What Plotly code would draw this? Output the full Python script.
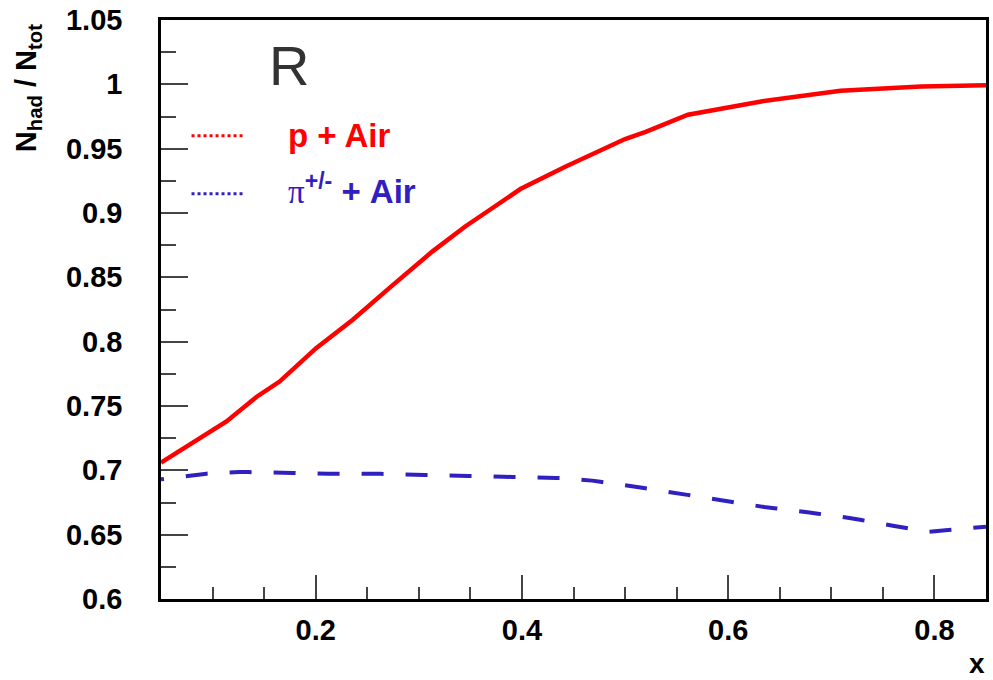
import plotly.graph_objects as go

# ---- data ----
x_p = [0.05, 0.078, 0.1135, 0.1425, 0.165, 0.2004, 0.236, 0.2713, 0.313, 0.345,
       0.3775, 0.3985, 0.442, 0.474, 0.5, 0.52, 0.561, 0.632, 0.709, 0.787, 0.85]
y_p = [0.706, 0.7205, 0.738, 0.757, 0.769, 0.795, 0.817, 0.8416, 0.870, 0.8895,
       0.9077, 0.9186, 0.936, 0.9478, 0.9575, 0.963, 0.9764, 0.9867, 0.995, 0.9984, 0.9992]

x_pi = [0.05, 0.075, 0.094, 0.126, 0.17, 0.212, 0.255, 0.297, 0.339, 0.382, 0.44,
        0.468, 0.51, 0.5515, 0.593, 0.635, 0.677, 0.719, 0.761, 0.7945, 0.85]
y_pi = [0.693, 0.6956, 0.6974, 0.6988, 0.698, 0.6974, 0.6974, 0.6964, 0.6959, 0.695, 0.694,
        0.692, 0.6873, 0.6822, 0.6764, 0.6715, 0.6674, 0.6628, 0.6568, 0.6523, 0.6562]

series_names = ["p + Air", "+ Air"]
x_ticks = [0.2, 0.4, 0.6, 0.8]
x_tick_text = ["0.2", "0.4", "0.6", "0.8"]
y_ticks = [0.6, 0.65, 0.7, 0.75, 0.8, 0.85, 0.9, 0.95, 1.0, 1.05]
y_tick_text = ["0.6", "0.65", "0.7", "0.75", "0.8", "0.85", "0.9", "0.95", "1", "1.05"]

RED = "#ff0000"
BLUE = "#3020c0"
FONT = "Liberation Sans, Arial, sans-serif"

fig = go.Figure()
fig.add_trace(go.Scatter(x=x_p, y=y_p, mode="lines", name="p + Air",
                         line=dict(color=RED, width=4.5), showlegend=False))
fig.add_trace(go.Scatter(x=x_pi, y=y_pi, mode="lines", name="pi + Air",
                         line=dict(color=BLUE, width=4, dash="3px,22px,19px,0px"),
                         showlegend=False))

axis_common = dict(showline=True, linecolor="black", linewidth=2.5, mirror=True,
                   showgrid=False, zeroline=False, ticks="inside",
                   tickcolor="#444", tickwidth=1.5, ticklabeloverflow="allow",
                   tickfont=dict(family=FONT, size=29, color="black", weight="bold"))

fig.update_xaxes(range=[0.05, 0.85], tickvals=x_ticks, ticktext=x_tick_text,
                 ticklen=24, ticklabelstandoff=3,
                 minor=dict(dtick=0.05, tick0=0.0, ticks="inside", ticklen=12,
                            tickcolor="#444", tickwidth=1.5),
                 **axis_common)
fig.update_yaxes(range=[0.6, 1.05], tickvals=y_ticks, ticktext=y_tick_text,
                 ticklen=27, ticklabelstandoff=30,
                 minor=dict(dtick=0.025, tick0=0.0, ticks="inside", ticklen=15,
                            tickcolor="#444", tickwidth=1.5),
                 **axis_common)

# legend drawn manually (dotted samples as in reference)
fig.add_shape(type="line", xref="paper", yref="paper", x0=0.037, x1=0.101, y0=0.80, y1=0.80,
              line=dict(color=RED, width=3, dash="dot"))
fig.add_shape(type="line", xref="paper", yref="paper", x0=0.037, x1=0.101, y0=0.70, y1=0.70,
              line=dict(color=BLUE, width=3, dash="dot"))
fig.add_annotation(xref="paper", yref="paper", x=0.1518, y=0.80, xanchor="left", yanchor="middle",
                   text=series_names[0], showarrow=False,
                   font=dict(family=FONT, size=33, color=RED, weight="bold"))
fig.add_annotation(xref="paper", yref="paper", x=0.1518, y=0.708, xanchor="left", yanchor="middle",
                   text="<span style='font-family:Liberation Serif;font-weight:normal'>π</span><sup>+/-</sup> "
                        + series_names[1],
                   showarrow=False,
                   font=dict(family=FONT, size=33, color=BLUE, weight="bold"))
fig.add_annotation(xref="paper", yref="paper", x=0.1546, y=0.921, xanchor="center", yanchor="middle",
                   text="R", showarrow=False,
                   font=dict(family=FONT, size=56, color="#333333"))

# axis titles
fig.add_annotation(xref="paper", yref="paper", x=0.989, y=-0.112, xanchor="center", yanchor="middle",
                   text="x", showarrow=False,
                   font=dict(family=FONT, size=28, color="black", weight="bold"))
fig.add_annotation(xref="paper", yref="paper", x=-0.161, y=0.8826, xanchor="center", yanchor="middle",
                   text="N<sub>had</sub> / N<sub>tot</sub>", textangle=-90, showarrow=False,
                   font=dict(family=FONT, size=29, color="black", weight="bold"))

fig.update_layout(width=993, height=680, margin=dict(l=161, r=4, t=20, b=81),
                  paper_bgcolor="white", plot_bgcolor="white")

# remove the default page margin so the 993x680 figure fills the window exactly
fig.write_html("out.html", config={"displayModeBar": False},
               post_script="document.body.style.margin='0';document.body.style.padding='0';"
                           "document.documentElement.style.overflow='hidden';"
                           "document.body.style.overflow='hidden';")
